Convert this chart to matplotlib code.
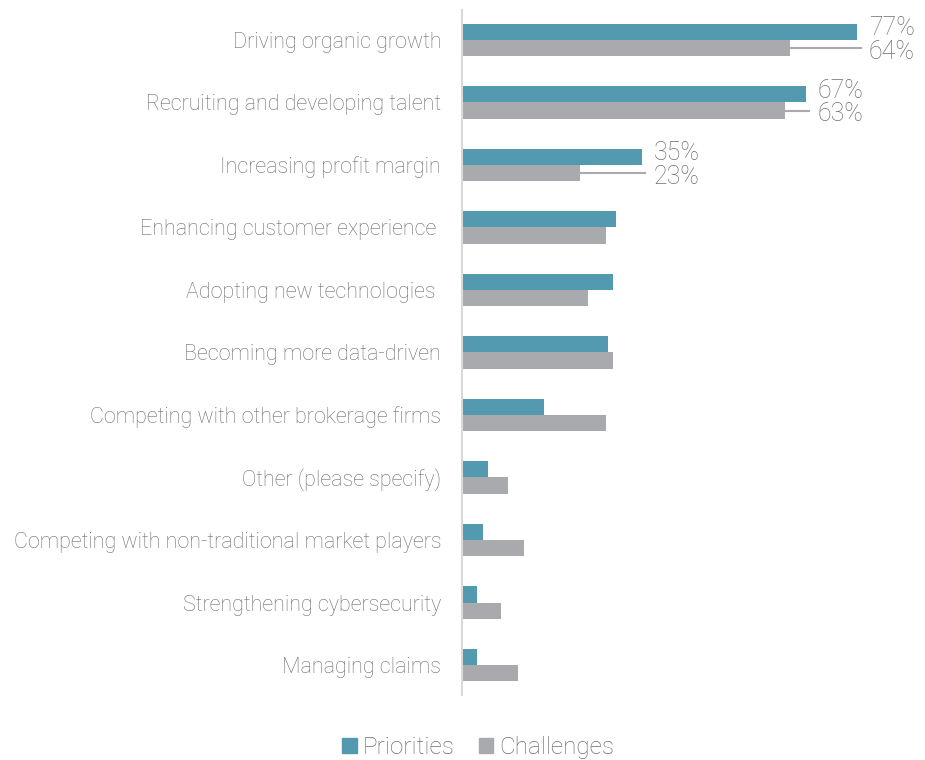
import matplotlib
matplotlib.use("Agg")
import matplotlib.pyplot as plt
from matplotlib.patches import Patch

plt.rcParams['font.family'] = ['Roboto', 'DejaVu Sans']
plt.rcParams['font.weight'] = 'light'

categorias = [
    "Driving organic growth",
    "Recruiting and developing talent",
    "Increasing profit margin",
    "Enhancing customer experience ",
    "Adopting new technologies ",
    "Becoming more data-driven",
    "Competing with other brokerage firms",
    "Other (please specify)",
    "Competing with non-traditional market players",
    "Strengthening cybersecurity",
    "Managing claims",
]
prioridades = [77, 67, 35, 30, 29.5, 28.5, 16, 5, 4, 3, 3]
retos = [64, 63, 23, 28, 24.5, 29.5, 28, 9, 12, 7.5, 11]
etiquetadas = 3  # solo las tres primeras filas llevan porcentaje

color_p = '#5399B0'
color_r = '#A9AAAD'
gris_texto = '#6E6E6E'

fig = plt.figure(figsize=(9.25, 7.6), dpi=100)
ancho = 0.46
ax = fig.add_axes([0.4995, 0.0855, ancho, 0.9015])
x_max = ancho * 925 / 5.13

alto = 0.26
y = list(range(len(categorias)))
ax.barh([v - alto / 2 for v in y], prioridades, height=alto, color=color_p)
ax.barh([v + alto / 2 for v in y], retos, height=alto, color=color_r)

for i in range(etiquetadas):
    x_txt = prioridades[i] + 2.3
    ax.text(x_txt, i - 0.19, f"{prioridades[i]}%", va='center', ha='left',
            fontsize=18, color=gris_texto)
    ax.text(x_txt, i + 0.19, f"{retos[i]}%", va='center', ha='left',
            fontsize=18, color=gris_texto)
    ax.plot([retos[i], x_txt - 1.6], [i + alto / 2, i + alto / 2], color=color_r, lw=1.5)

ax.set_ylim(len(categorias) - 0.52, -0.48)
ax.set_xlim(0, x_max)
ax.set_yticks(y)
ax.set_yticklabels(categorias, fontsize=15.5, color=gris_texto)
ax.tick_params(axis='y', length=0, pad=15)
ax.set_xticks([])
for lado in ['top', 'right', 'bottom']:
    ax.spines[lado].set_visible(False)
ax.spines['left'].set_color('#D9D9D9')
ax.spines['left'].set_linewidth(1.5)

manijas = [Patch(color=color_p, label='Priorities'), Patch(color=color_r, label='Challenges')]
fig.legend(handles=manijas, loc='center', bbox_to_anchor=(0.517, 0.016), ncol=2, frameon=False,
           fontsize=17.5, labelcolor=gris_texto, handlelength=0.6, handleheight=0.6,
           handletextpad=0.25, columnspacing=1.0)

fig.savefig("out.png", dpi=100)
